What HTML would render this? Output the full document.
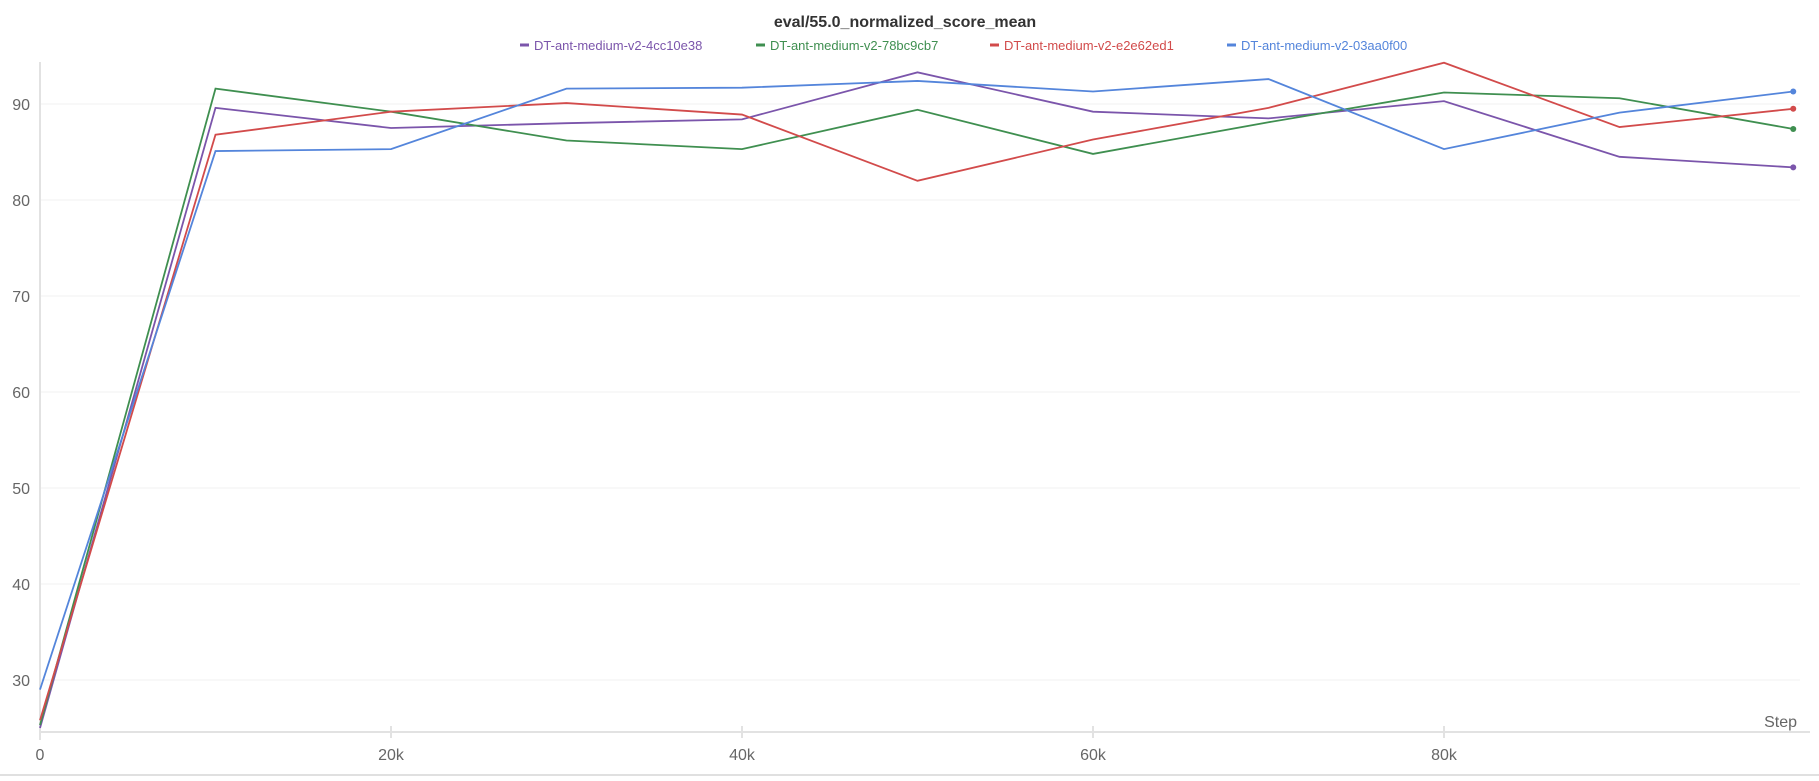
<!DOCTYPE html>
<html><head><meta charset="utf-8"><style>
body{margin:0;background:#fff;font-family:"Liberation Sans",sans-serif;}
svg text{font-family:"Liberation Sans",sans-serif;}
</style></head><body>
<svg id="chart" width="1819" height="776" xmlns="http://www.w3.org/2000/svg">
<text x="905" y="27" text-anchor="middle" font-size="16" font-weight="bold" fill="#333">eval/55.0_normalized_score_mean</text>
<g id="legend"></g>
<g id="grid"></g><g id="axes"></g><g id="series"></g>
<line x1="0" y1="775" x2="1819" y2="775" stroke="#e0e0e0" stroke-width="2"/>
</svg>
<script>
const steps=[0,10000,20000,30000,40000,50000,60000,70000,80000,90000,99900];
const names=["DT-ant-medium-v2-4cc10e38","DT-ant-medium-v2-78bc9cb7","DT-ant-medium-v2-e2e62ed1","DT-ant-medium-v2-03aa0f00"];
const colors=["#7b55ab","#3f8f50","#d24b4b","#5485db"];
const purple=[25.0,89.6,87.5,88.0,88.4,93.3,89.2,88.5,90.3,84.5,83.4];
const green=[25.3,91.6,89.2,86.2,85.3,89.4,84.8,88.1,91.2,90.6,87.4];
const red=[25.8,86.8,89.2,90.1,88.9,82.0,86.3,89.6,94.3,87.6,89.5];
const blue=[29.0,85.1,85.3,91.6,91.7,92.4,91.3,92.6,85.3,89.1,91.3];
const yTicks=[30,40,50,60,70,80,90];
const xTicks=[0,20000,40000,60000,80000];
const xTickLabels=["0","20k","40k","60k","80k"];
const allSeries=[purple,green,red,blue];
const NS="http://www.w3.org/2000/svg";
const X=v=>40+v*0.01755;
const Y=v=>680-(v-30)*9.6;
function mk(t,a,p){const e=document.createElementNS(NS,t);for(const k in a)e.setAttribute(k,a[k]);p.appendChild(e);return e;}
const grid=document.getElementById('grid'),axes=document.getElementById('axes'),ser=document.getElementById('series'),leg=document.getElementById('legend');
yTicks.forEach(v=>{
 const l=mk('line',{x1:40,x2:1800,y1:Y(v),y2:Y(v),stroke:'#f0f0f0','stroke-width':1},grid);
 
 
 const t=mk('text',{x:30,y:Y(v)+6,'text-anchor':'end','font-size':16,fill:'#666'},axes);t.textContent=v;
 
 
});
const ya=mk('line',{x1:40,x2:40,y1:62,y2:740,stroke:'#e2e2e2','stroke-width':2},axes);


const xa=mk('line',{x1:40,x2:1810,y1:732,y2:732,stroke:'#e2e2e2','stroke-width':2},axes);


xTicks.forEach((v,i)=>{
 const tk=mk('line',{x1:X(v),x2:X(v),y1:726,y2:738,stroke:'#e2e2e2','stroke-width':2},axes);
 
 
 const t=mk('text',{x:X(v),y:760,'text-anchor':'middle','font-size':16,fill:'#666'},axes);t.textContent=xTickLabels[i];
 
 
});
const st=mk('text',{x:1797,y:727,'text-anchor':'end','font-size':16,fill:'#666'},axes);st.textContent='Step';


allSeries.forEach((s,i)=>{
 const pts=s.map((v,j)=>X(steps[j])+','+Y(v)).join(' ');
 const pl=mk('polyline',{points:pts,fill:'none',stroke:colors[i],'stroke-width':1.8},ser);
 
 
 const c=mk('circle',{cx:X(steps[s.length-1]),cy:Y(s[s.length-1]),r:3,fill:colors[i]},ser);
 
 
});
const lx=[520,756,990,1227];
names.forEach((n,i)=>{
 const g=mk('g',{},leg);
 
 
 mk('line',{x1:lx[i],x2:lx[i]+9,y1:45,y2:45,stroke:colors[i],'stroke-width':3},g);
 const t=mk('text',{x:lx[i]+14,y:50,'font-size':13,fill:colors[i]},g);t.textContent=n;
});
</script>
</body></html>
